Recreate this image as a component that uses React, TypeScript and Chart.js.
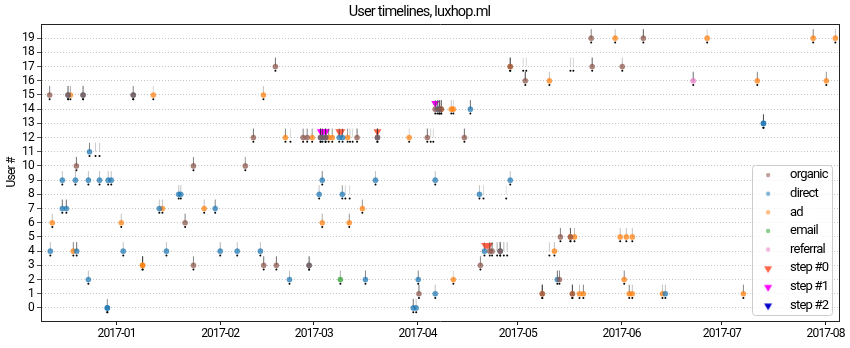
import React, { useEffect, useRef } from "react";
import { Chart, registerables } from "chart.js";
import { drawPoint } from "chart.js/helpers";

Chart.register(...registerables);

// ---------------- data ----------------
const TITLE = "User timelines, luxhop.ml";
const Y_LABEL = "User #";
const MONTH_TICKS = ["2017-01", "2017-02", "2017-03", "2017-04", "2017-05", "2017-06", "2017-07", "2017-08"];
const USER_TICKS = [0, 1, 2, 3, 4, 5, 6, 7, 8, 9, 10, 11, 12, 13, 14, 15, 16, 17, 18, 19];
const X_RANGE = ["2016-12-09T10", "2017-08-05T00"];
const Y_RANGE = [-0.92, 20];

// [date(T hour), user #, line opacity]
type Visit = [string, number, number];

const organic: Visit[] = [
  ["2016-12-12", 15, 0.6], ["2016-12-17T12", 15, 0.5], ["2016-12-22", 15, 0.5], ["2017-01-06", 15, 0.35],
  ["2017-02-17T12", 17, 0.7], ["2016-12-20", 10, 0.7], ["2017-01-24", 10, 0.6], ["2017-02-08T12", 10, 0.5],
  ["2017-01-21T12", 6, 0.6], ["2017-01-24", 3, 0.6], ["2017-02-14", 3, 0.7], ["2017-02-17T19", 3, 0.7],
  ["2017-02-27T14", 3, 0.4], ["2017-04-19T19", 3, 0.6], ["2017-02-10T22", 12, 0.7], ["2017-02-25T19", 12, 0.6],
  ["2017-02-27", 12, 0.6], ["2017-03-03", 12, 0.8], ["2017-03-04T12", 12, 0.8], ["2017-03-13T22", 12, 0.7],
  ["2017-03-20", 12, 0.8], ["2017-04-03T22", 12, 0.7], ["2017-04-15", 12, 0.7], ["2017-04-06T07", 14, 0.6],
  ["2017-04-07T12", 14, 0.7], ["2017-04-08T02", 14, 0.5], ["2017-04-28T17", 17, 0.7], ["2017-05-23T05", 17, 0.8],
  ["2017-06-01T05", 17, 0.3], ["2017-05-03T05", 16, 0.9], ["2017-05-22T22", 19, 0.6], ["2017-06-07T12", 19, 0.8],
  ["2017-05-13T17", 5, 0.6], ["2017-05-16T17", 5, 0.6], ["2017-04-22T14", 4, 0.6], ["2017-04-23T07", 4, 0.7],
  ["2017-04-25T17", 4, 0.7], ["2017-05-13T10", 2, 0.6], ["2017-04-01T10", 1, 0.7], ["2017-05-08T07", 1, 0.8],
  ["2017-05-17T07", 1, 0.7],
];

const direct: Visit[] = [
  ["2016-12-17T12", 15, 0.4], ["2016-12-22", 15, 0.3], ["2017-01-06", 15, 0.3], ["2016-12-23T22", 11, 0.6],
  ["2016-12-15T19", 9, 0.3], ["2016-12-19T17", 9, 0.3], ["2016-12-23T14", 9, 0.3], ["2016-12-26T22", 9, 0.3],
  ["2016-12-29T12", 9, 0.3], ["2016-12-30T10", 9, 0.3], ["2017-03-03T12", 9, 0.6], ["2017-03-19T10", 9, 0.3],
  ["2017-04-06T07", 9, 0.3], ["2017-04-28T17", 9, 0.3], ["2017-01-19T14", 8, 0.3], ["2017-01-20T05", 8, 0.3],
  ["2017-03-02T14", 8, 0.3], ["2017-03-09T12", 8, 0.5], ["2017-04-19T12", 8, 0.3], ["2016-12-15T19", 7, 0.7],
  ["2016-12-17", 7, 0.7], ["2017-01-13T19", 7, 0.3], ["2017-01-30T12", 7, 0.6], ["2016-12-12T05", 4, 0.3],
  ["2016-12-20T02", 4, 0.7], ["2017-01-03", 4, 0.3], ["2017-01-15T22", 4, 0.3], ["2017-02-01", 4, 0.4],
  ["2017-02-06T02", 4, 0.3], ["2017-02-13", 4, 0.3], ["2017-04-21", 4, 0.3], ["2017-04-25T17", 4, 0.5],
  ["2017-02-27T14", 3, 0.5], ["2016-12-23T14", 2, 0.3], ["2017-02-21T17", 2, 0.3], ["2017-03-16T10", 2, 0.6],
  ["2017-04-01T05", 2, 0.6], ["2017-05-12T19", 2, 0.7], ["2017-04-06T07", 1, 0.3], ["2017-06-14T02", 1, 0.3],
  ["2016-12-29T06", 0, 0.3], ["2016-12-29T06", 0, 0.3], ["2017-03-30T17", 0, 0.7], ["2017-03-31T14", 0, 0.3],
  ["2017-03-03", 12, 0.7], ["2017-03-03T14", 12, 0.7], ["2017-03-04T12", 12, 0.7], ["2017-03-08T14", 12, 0.6],
  ["2017-03-09T14", 12, 0.6], ["2017-03-20", 12, 0.6], ["2017-07-13T10", 13, 0.7], ["2017-07-13T10", 13, 0.5],
  ["2017-04-06T22", 14, 0.7], ["2017-04-07T12", 14, 0.7], ["2017-04-16T19", 14, 0.7],
];

const ad: Visit[] = [
  ["2016-12-18T05", 15, 0.4], ["2017-01-12", 15, 0.2], ["2017-02-13T22", 15, 0.3], ["2017-02-20T12", 12, 0.6],
  ["2017-02-28T12", 12, 0.5], ["2017-03-05T10", 12, 0.6], ["2017-03-06T12", 12, 0.5], ["2017-03-11T02", 12, 0.5],
  ["2017-03-29T12", 12, 0.2], ["2017-01-14T17", 7, 0.3], ["2017-01-27T05", 7, 0.3], ["2017-03-15T12", 7, 0.5],
  ["2016-12-12T19", 6, 0.3], ["2017-01-02T10", 6, 0.3], ["2017-03-03T12", 6, 0.4], ["2017-03-11T14", 6, 0.5],
  ["2017-05-16T17", 5, 0.5], ["2017-05-17T22", 5, 0.3], ["2017-05-31T14", 5, 0.3], ["2017-06-02T10", 5, 0.3],
  ["2017-06-04T05", 5, 0.3], ["2016-12-19T02", 4, 0.6], ["2017-05-11T22", 4, 0.3], ["2017-01-08T19", 3, 0.8],
  ["2017-01-08T19", 3, 0.8], ["2017-04-11T17", 2, 0.2], ["2017-06-01T19", 2, 0.6], ["2017-05-08T07", 1, 0.7],
  ["2017-05-17T07", 1, 0.6], ["2017-05-19T10", 1, 0.3], ["2017-05-20T14", 1, 0.6], ["2017-06-03T07", 1, 0.6],
  ["2017-06-04T05", 1, 0.3], ["2017-06-13T05", 1, 0.3], ["2017-07-07T10", 1, 0.6], ["2017-04-08T02", 14, 0.6],
  ["2017-04-11T02", 14, 0.3], ["2017-04-11T17", 14, 0.2], ["2017-05-10T10", 16, 0.3], ["2017-07-11T14", 16, 0.6],
  ["2017-08-01T05", 16, 0.5], ["2017-04-28T17", 17, 0.6], ["2017-05-30T02", 19, 0.3], ["2017-06-26T14", 19, 0.2],
  ["2017-07-28T07", 19, 0.6], ["2017-08-03T22", 19, 0.3],
];

const email: Visit[] = [["2017-03-08T22", 2, 0.4]];
const referral: Visit[] = [["2017-06-22T10", 16, 0.7]];

// visits without a known source (line and event dot only)
const unattributed: Visit[] = [
  ["2016-12-25T17", 11, 0.25], ["2016-12-26T22", 11, 0.25], ["2017-02-22", 12, 0.2], ["2017-03-11T19", 12, 0.25],
  ["2017-03-12T14", 12, 0.2], ["2017-04-04T22", 12, 0.2], ["2017-04-05T17", 12, 0.2], ["2017-03-10T10", 8, 0.2],
  ["2017-03-11T17", 8, 0.2], ["2017-04-20T17", 8, 0.2], ["2017-04-27T12", 8, 0.15], ["2017-04-24T19", 4, 0.4],
  ["2017-04-26T19", 4, 0.35], ["2017-04-27T19", 4, 0.3], ["2017-05-10T10", 4, 0.25], ["2017-05-02T14", 17, 0.2],
  ["2017-05-03T12", 17, 0.2], ["2017-05-16T17", 17, 0.2], ["2017-05-17T14", 17, 0.2],
];

type Step = [string, number];
const step0: Step[] = [
  ["2017-03-08T14", 12], ["2017-03-09T05", 12], ["2017-03-20", 12],
  ["2017-04-21T05", 4], ["2017-04-21T19", 4], ["2017-04-22T10", 4],
];
const step1: Step[] = [["2017-03-03T02", 12], ["2017-03-03T19", 12], ["2017-03-04T14", 12], ["2017-04-06T07", 14]];
const step2: Step[] = [];

// ---------------- helpers ----------------
const EPOCH = Date.UTC(2017, 0, 1);
function toDay(s: string): number {
  const [d, h] = s.split("T");
  const [y, m, dd] = d.split("-").map(Number);
  return (Date.UTC(y, m - 1, dd || 1) - EPOCH) / 864e5 + (h ? Number(h) / 24 : 0);
}

const FONT = "Roboto, 'Noto Sans', sans-serif";
const LETTER_SPACING = "-0.8px";

const SOURCES = [
  { label: "organic", data: organic, rgb: "140,86,75" },
  { label: "direct", data: direct, rgb: "31,119,180" },
  { label: "ad", data: ad, rgb: "255,127,14" },
  { label: "email", data: email, rgb: "44,160,44" },
  { label: "referral", data: referral, rgb: "227,119,194" },
];
const STEPS = [
  { label: "step #0", data: step0, color: "#ff6347" },
  { label: "step #1", data: step1, color: "#ff00ff" },
  { label: "step #2", data: step2, color: "#0000cd" },
];

const LINE_OFFSET = 0.32;
const DOT_OFFSET = -0.3;
const STEP_OFFSET = 0.42;

function makeMarker(kind: "circle" | "triangle", color: string): HTMLCanvasElement {
  const c = document.createElement("canvas");
  c.width = 12;
  c.height = 12;
  const g = c.getContext("2d")!;
  g.fillStyle = color;
  if (kind === "circle") {
    drawPoint(g, { pointStyle: "circle", radius: 2.2, rotation: 0, borderWidth: 0 } as any, 6, 6);
  } else {
    drawPoint(g, { pointStyle: "triangle", radius: 4.6, rotation: 180, borderWidth: 0 } as any, 6, 6.5);
  }
  return c;
}

const condense = {
  id: "condense",
  beforeUpdate(chart: any) {
    chart.ctx.letterSpacing = LETTER_SPACING;
  },
  beforeLayout(chart: any) {
    chart.ctx.letterSpacing = LETTER_SPACING;
  },
  beforeDraw(chart: any) {
    chart.ctx.letterSpacing = LETTER_SPACING;
  },
};

const legendPlacer = {
  id: "legendPlacer",
  beforeLayout(chart: any) {
    const lg = chart.legend;
    if (!lg) return;
    lg._layers = () => [
      {
        z: 10,
        draw: () => {
          const b = chart.$legendBox;
          if (b) {
            const ctx = chart.ctx;
            ctx.save();
            ctx.beginPath();
            (ctx as any).roundRect(b.left + 0.5, b.top + 0.5, b.right - b.left, b.bottom - b.top, 3);
            ctx.fillStyle = "rgba(255,255,255,0.8)";
            ctx.fill();
            ctx.strokeStyle = "#cccccc";
            ctx.lineWidth = 1;
            ctx.stroke();
            ctx.restore();
          }
          lg.draw();
        },
      },
    ];
  },
  afterLayout(chart: any) {
    const lg = chart.legend;
    if (!lg) return;
    const ca = chart.chartArea;
    const right = ca.right - 7;
    const bottom = ca.bottom - 6;
    const left = right - 80;
    const top = bottom - 150;
    chart.$legendBox = { left, top, right, bottom };
    lg.left = left - 5;
    lg.top = top - 2;
    lg.right = right;
    lg.bottom = bottom + 12;
    lg.width = lg.right - lg.left;
    lg.height = lg.bottom - lg.top;
  },
};

export default function App() {
  const ref = useRef<HTMLCanvasElement>(null);

  useEffect(() => {
    document.body.style.margin = "0";
    Chart.defaults.font.family = FONT;
    Chart.defaults.color = "#000";

    const allVisits: Visit[] = [...organic, ...direct, ...ad, ...email, ...referral, ...unattributed];

    const sourceSets = SOURCES.map((s) => ({
      label: s.label,
      data: s.data.map((v) => ({ x: toDay(v[0]), y: v[1] })),
      pointStyle: "circle",
      pointRadius: 2.6,
      pointHoverRadius: 2.6,
      backgroundColor: `rgba(${s.rgb},0.72)`,
      borderColor: `rgba(${s.rgb},0.3)`,
      pointBorderWidth: 1,
      order: 0,
    }));
    const stepSets = STEPS.map((s) => ({
      label: s.label,
      data: s.data.map((v) => ({ x: toDay(v[0]), y: v[1] + STEP_OFFSET })),
      pointStyle: "triangle",
      pointRotation: 180,
      pointRadius: 4.6,
      pointHoverRadius: 4.6,
      backgroundColor: s.color,
      borderColor: s.color,
      pointBorderWidth: 0,
      order: 3,
    }));
    const lineSet = {
      label: "visit lines",
      data: allVisits.map((v) => ({ x: toDay(v[0]), y: v[1] + LINE_OFFSET })),
      pointStyle: "line",
      pointRotation: 90,
      pointRadius: 4.5,
      pointHoverRadius: 4.5,
      pointBorderWidth: 1,
      pointBorderColor: allVisits.map((v) => `rgba(50,50,50,${v[2]})`),
      pointBackgroundColor: "rgba(0,0,0,0)",
      order: 2,
    };
    const dotSet = {
      label: "events",
      data: allVisits.map((v) => ({ x: toDay(v[0]), y: v[1] + DOT_OFFSET })),
      pointStyle: "circle",
      pointRadius: 1,
      pointHoverRadius: 1,
      pointBorderWidth: 0,
      backgroundColor: "#000",
      borderColor: "#000",
      order: 1,
    };

    const markers: HTMLCanvasElement[] = [
      ...SOURCES.map((s) => makeMarker("circle", `rgba(${s.rgb},0.55)`)),
      ...STEPS.map((s) => makeMarker("triangle", s.color)),
    ];

    const chart = new Chart(ref.current!, {
      type: "scatter",
      data: { datasets: [...sourceSets, ...stepSets, lineSet, dotSet] as any },
      plugins: [condense as any, legendPlacer as any],
      options: {
        responsive: false,
        animation: false,
        events: [],
        layout: { padding: { left: 0, right: 11, top: 0, bottom: 0 } },
        plugins: {
          title: {
            display: true,
            text: TITLE,
            color: "#000",
            font: { size: 14.5, weight: "normal", lineHeight: 16 / 14.5 },
            padding: { top: 4, bottom: 4 },
          },
          tooltip: { enabled: false },
          legend: {
            position: "chartArea" as any,
            align: "start",
            labels: {
              usePointStyle: true,
              pointStyleWidth: 31,
              padding: 5.6,
              color: "#000",
              font: { size: 13 },
              filter: (item: any) => item.datasetIndex < 8,
              sort: (a: any, b: any) => a.datasetIndex - b.datasetIndex,
              generateLabels: (c: any) =>
                (Chart.defaults.plugins.legend.labels.generateLabels as any)(c).map((it: any) => ({
                  ...it,
                  pointStyle: markers[it.datasetIndex] || it.pointStyle,
                  rotation: 0,
                })),
            },
          },
        },
        scales: {
          x: {
            type: "linear",
            position: "bottom",
            min: toDay(X_RANGE[0]),
            max: toDay(X_RANGE[1]),
            afterBuildTicks: (s: any) => {
              s.ticks = MONTH_TICKS.map((m) => ({ value: toDay(m + "-01") }));
            },
            afterFit: (s: any) => {
              s.height = 27;
            },
            ticks: {
              autoSkip: false,
              maxRotation: 0,
              padding: 2,
              color: "#000",
              font: { size: 12 },
              callback: (_v: any, i: number) => MONTH_TICKS[i],
            },
            grid: { drawOnChartArea: false, drawTicks: true, tickLength: 4, color: "#222", tickColor: "#222" },
            border: { display: true, color: "#222", width: 1 },
          },
          y: {
            type: "linear",
            position: "left",
            min: Y_RANGE[0],
            max: Y_RANGE[1],
            afterBuildTicks: (s: any) => {
              s.ticks = USER_TICKS.map((v) => ({ value: v }));
            },
            afterFit: (s: any) => {
              s.width = 41;
            },
            ticks: { autoSkip: false, padding: 3, color: "#000", font: { size: 12 } },
            grid: {
              drawOnChartArea: true,
              color: "#b8b8b8",
              lineWidth: 0.8,
              tickLength: 4,
              tickColor: "#222",
              tickBorderDash: [],
            },
            border: { display: true, color: "#222", width: 1, dash: [1, 2] },
            title: { display: true, text: Y_LABEL, color: "#000", font: { size: 12 }, padding: { top: 5, bottom: 0 } },
          },
          xTop: {
            type: "linear",
            axis: "x",
            position: "top",
            min: toDay(X_RANGE[0]),
            max: toDay(X_RANGE[1]),
            afterFit: (s: any) => {
              s.height = 0;
            },
            ticks: { display: false },
            grid: { display: false, drawTicks: false },
            border: { display: true, color: "#222", width: 1 },
          },
          yRight: {
            type: "linear",
            axis: "y",
            position: "right",
            min: Y_RANGE[0],
            max: Y_RANGE[1],
            afterFit: (s: any) => {
              s.width = 0;
            },
            ticks: { display: false },
            grid: { display: false, drawTicks: false },
            border: { display: true, color: "#222", width: 1 },
          },
        } as any,
      },
    });
    return () => chart.destroy();
  }, []);

  return (
    <div style={{ width: 850, height: 348 }}>
      <canvas ref={ref} width={850} height={348} style={{ display: "block", width: 850, height: 348 }} />
    </div>
  );
}
